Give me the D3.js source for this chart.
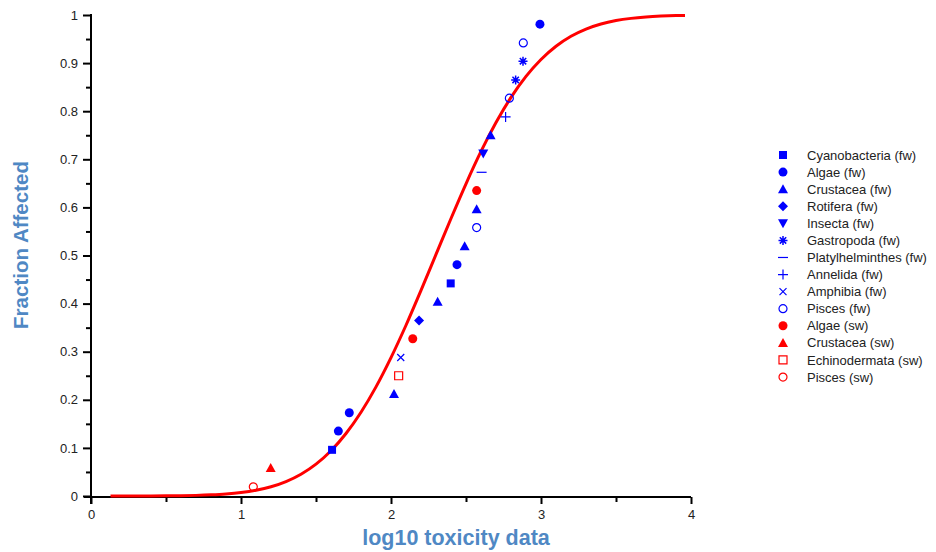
<!DOCTYPE html>
<html>
<head>
<meta charset="utf-8">
<script src="https://cdn.jsdelivr.net/npm/d3@7/dist/d3.min.js"></script>
<style>
  html, body { margin: 0; padding: 0; background: #ffffff; }
  svg { display: block; }
  text { font-family: "Liberation Sans", Arial, sans-serif; }
</style>
</head>
<body>
<svg id="chart" width="936" height="552"></svg>
<script>
// Species sensitivity distribution: log10 toxicity values vs. fraction affected

// Fitted distribution curve (x = log10 toxicity, y = fraction affected)
const curveX = [0.13, 0.2, 0.3, 0.4, 0.5, 0.6, 0.7, 0.8, 0.9, 1.0, 1.1, 1.2, 1.3, 1.4, 1.5, 1.6, 1.7, 1.8, 1.9, 2.0,
                2.1, 2.2, 2.3, 2.4, 2.5, 2.6, 2.7, 2.8, 2.9, 3.0, 3.1, 3.2, 3.3, 3.4, 3.5, 3.6, 3.7, 3.8, 3.9, 3.96];
const curveY = [0.0000, 0.0000, 0.0001, 0.0002, 0.0004, 0.0007, 0.0013, 0.0024, 0.0042, 0.0072, 0.0120, 0.0192, 0.0300,
                0.0453, 0.0663, 0.0942, 0.1300, 0.1742, 0.2269, 0.2877, 0.3550, 0.4274, 0.5023, 0.5770, 0.6491,
                0.7163, 0.7764, 0.8287, 0.8724, 0.9076, 0.9351, 0.9558, 0.9708, 0.9813, 0.9884, 0.9930, 0.9959,
                0.9977, 0.9988, 0.9991];

// Taxonomic groups (legend order)
const groups = ["Cyanobacteria (fw)", "Algae (fw)", "Crustacea (fw)", "Rotifera (fw)", "Insecta (fw)",
                "Gastropoda (fw)", "Platylhelminthes (fw)", "Annelida (fw)", "Amphibia (fw)", "Pisces (fw)",
                "Algae (sw)", "Crustacea (sw)", "Echinodermata (sw)", "Pisces (sw)"];

// Observations per group
const groupX = [
  [1.607, 2.398],
  [1.649, 1.722, 2.440, 2.993],
  [2.020, 2.311, 2.491, 2.571, 2.664],
  [2.187],
  [2.615],
  [2.831, 2.880],
  [2.604],
  [2.764],
  [2.065],
  [2.571, 2.789, 2.882],
  [2.145, 2.571],
  [1.198],
  [2.051],
  [1.082]
];
const groupY = [
  [0.096, 0.442],
  [0.135, 0.173, 0.481, 0.981],
  [0.212, 0.404, 0.519, 0.596, 0.750],
  [0.365],
  [0.712],
  [0.865, 0.904],
  [0.673],
  [0.788],
  [0.288],
  [0.558, 0.827, 0.942],
  [0.327, 0.635],
  [0.058],
  [0.250],
  [0.019]
];

const xTickLabels = ["0", "1", "2", "3", "4"];
const yTickLabels = ["0", "0.1", "0.2", "0.3", "0.4", "0.5", "0.6", "0.7", "0.8", "0.9", "1"];

// Marker style per group: shape, colour, filled
const shapes = ["square", "circle", "triangle", "diamond", "triangleDown", "asterisk", "dash", "plus", "cross",
                "circle", "circle", "triangle", "square", "circle"];
const colours = ["#0000ff", "#0000ff", "#0000ff", "#0000ff", "#0000ff", "#0000ff", "#0000ff", "#0000ff", "#0000ff",
                 "#0000ff", "#ff0000", "#ff0000", "#ff0000", "#ff0000"];
const filled = [true, true, true, true, true, true, true, true, true, false, true, true, false, false];

const svg = d3.select("#chart");
const titleColour = "#4f88c4";

const x = d3.scaleLinear().domain([0, 4]).range([91, 691]);
const y = d3.scaleLinear().domain([0, 1]).range([496, 15]);

// Marker path generator, centred at origin
function markerPath(shape) {
  switch (shape) {
    case "square": return "M-4,-4H4V4H-4Z";
    case "diamond": return "M0,-5L5,0L0,5L-5,0Z";
    case "triangle": return "M0,-5L5,4L-5,4Z";
    case "triangleDown": return "M0,5L5,-4L-5,-4Z";
    case "plus": return "M-5,0H5M0,-5V5";
    case "cross": return "M-3.5,-3.5L3.5,3.5M-3.5,3.5L3.5,-3.5";
    case "dash": return "M-5,0H5";
    case "asterisk": return "M-4.5,0H4.5M0,-4.5V4.5M-3.2,-3.2L3.2,3.2M-3.2,3.2L3.2,-3.2";
    default: return null;
  }
}

function drawMarker(g, shape, colour, fill) {
  if (shape === "circle") {
    if (fill) {
      g.append("circle").attr("r", 4.5).attr("fill", colour);
    } else {
      g.append("circle").attr("r", 4).attr("fill", "none").attr("stroke", colour).attr("stroke-width", 1.2);
    }
    return;
  }
  const p = g.append("path").attr("d", markerPath(shape));
  const lineOnly = ["plus", "cross", "dash", "asterisk"].includes(shape);
  if (lineOnly) {
    p.attr("fill", "none").attr("stroke", colour).attr("stroke-width", shape === "asterisk" ? 1.5 : 1.2);
  } else if (fill) {
    p.attr("fill", colour);
  } else {
    p.attr("fill", "none").attr("stroke", colour).attr("stroke-width", 1.2);
  }
}

// Axes: major labelled ticks plus minor ticks
const xMinor = d3.range(0, 4.01, 0.5).filter(v => Math.abs(v - Math.round(v)) > 1e-6);
const yMinor = d3.range(0.05, 1.0, 0.1);

const xAxis = svg.append("g").attr("transform", "translate(0,497)")
  .call(d3.axisBottom(x).tickValues([0, 1, 2, 3, 4]).tickFormat((d, i) => xTickLabels[i]).tickSize(7).tickSizeOuter(0));
svg.append("g").attr("transform", "translate(0,497)")
  .call(d3.axisBottom(x).tickValues(xMinor).tickFormat("").tickSize(5).tickSizeOuter(0))
  .call(g => g.select(".domain").remove());

const yAxis = svg.append("g").attr("transform", "translate(91,0)")
  .call(d3.axisLeft(y).tickValues(d3.range(0, 11).map(i => i / 10)).tickFormat((d, i) => yTickLabels[i]).tickSize(8).tickSizeOuter(0));
svg.append("g").attr("transform", "translate(91,0)")
  .call(d3.axisLeft(y).tickValues(yMinor).tickFormat("").tickSize(5).tickSizeOuter(0))
  .call(g => g.select(".domain").remove());

svg.selectAll(".domain").attr("stroke", "#000").attr("stroke-width", 2);
svg.selectAll(".tick line").attr("stroke", "#000").attr("stroke-width", 2);
xAxis.select(".domain").attr("d", "M84,0H691");
yAxis.select(".domain").attr("d", "M0,14V504");
xAxis.selectAll(".tick text").attr("font-size", 13).attr("fill", "#222").attr("dy", "0.9em")
  .attr("font-family", "Liberation Sans, Arial, sans-serif");
yAxis.selectAll(".tick text").attr("font-size", 13).attr("fill", "#222").attr("x", -13)
  .attr("font-family", "Liberation Sans, Arial, sans-serif");

// Fitted curve
const line = d3.line().x((d, i) => x(curveX[i])).y(d => y(d)).curve(d3.curveMonotoneX);
svg.append("path").datum(curveY).attr("d", line)
  .attr("fill", "none").attr("stroke", "#ff0000").attr("stroke-width", 3);

// Data points
groups.forEach((name, gi) => {
  groupX[gi].forEach((vx, k) => {
    const g = svg.append("g").attr("transform", `translate(${x(vx)},${y(groupY[gi][k])})`);
    drawMarker(g, shapes[gi], colours[gi], filled[gi]);
  });
});

// Legend
const legend = svg.append("g").attr("transform", "translate(783,155)");
groups.forEach((name, gi) => {
  const row = legend.append("g").attr("transform", `translate(0,${gi * 17.08})`);
  drawMarker(row, shapes[gi], colours[gi], filled[gi]);
  row.append("text").attr("x", 24).attr("y", 0).attr("dy", "0.35em")
    .attr("font-size", 13).attr("fill", "#222").text(name);
});

// Axis titles
svg.append("text").attr("x", 456).attr("y", 545).attr("text-anchor", "middle")
  .attr("font-size", 21.5).attr("font-weight", "bold").attr("fill", titleColour).text("log10 toxicity data");
svg.append("text").attr("transform", "translate(28,245) rotate(-90)").attr("text-anchor", "middle")
  .attr("font-size", 20.5).attr("font-weight", "bold").attr("fill", titleColour).text("Fraction Affected");
</script>
</body>
</html>
